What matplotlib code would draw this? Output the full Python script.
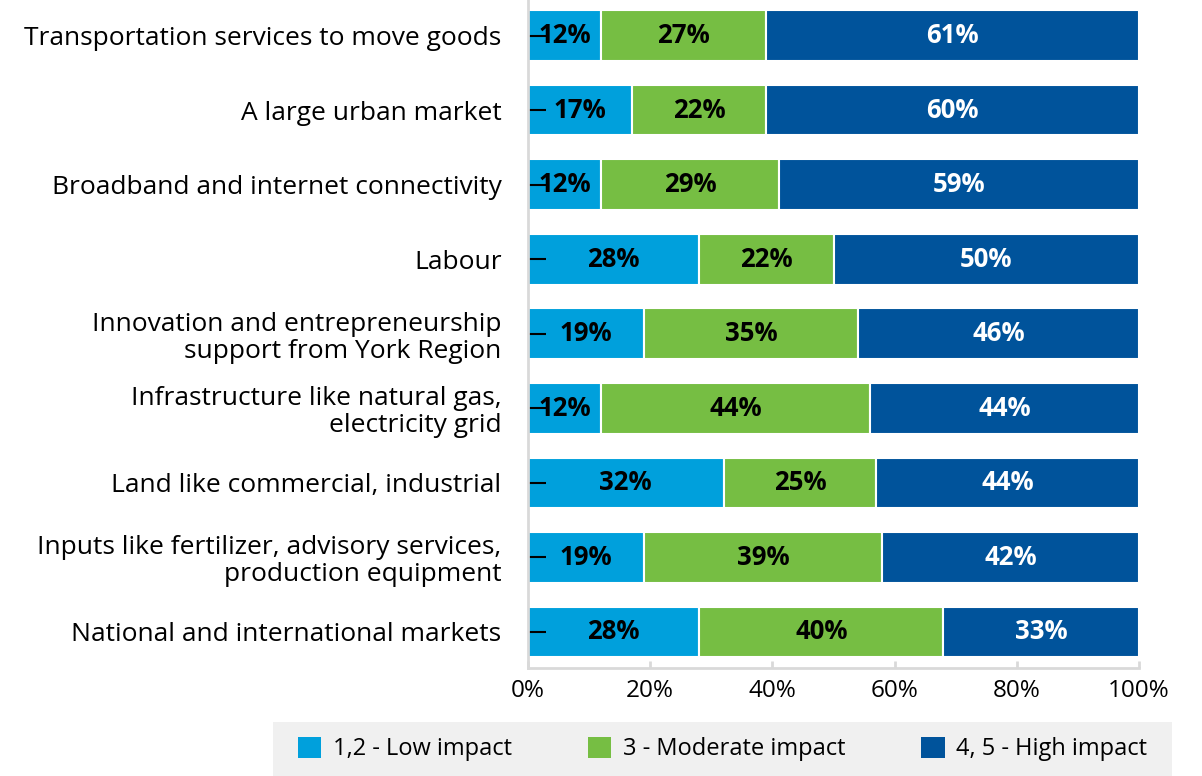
import matplotlib
matplotlib.use("Agg")
import matplotlib.pyplot as plt
from matplotlib.patches import Rectangle

categories = [
    "Transportation services to move goods",
    "A large urban market",
    "Broadband and internet connectivity",
    "Labour",
    "Innovation and entrepreneurship\nsupport from York Region",
    "Infrastructure like natural gas,\nelectricity grid",
    "Land like commercial, industrial",
    "Inputs like fertilizer, advisory services,\nproduction equipment",
    "National and international markets",
]
low = [12, 17, 12, 28, 19, 12, 32, 19, 28]
moderate = [27, 22, 29, 22, 35, 44, 25, 39, 40]
high = [61, 60, 59, 50, 46, 44, 44, 42, 33]
series_names = ["1,2 - Low impact", "3 - Moderate impact", "4, 5 - High impact"]
colors = ["#00A0DC", "#76BE43", "#00539B"]
text_colors = ["black", "black", "white"]
xticks = [0, 20, 40, 60, 80, 100]

plt.rcParams['font.family'] = ['Open Sans', 'DejaVu Sans']

W, H = 1202, 776
fig = plt.figure(figsize=(W / 100, H / 100), dpi=100)
ax = fig.add_axes([528 / W, 1 - 668 / H, (1139 - 528) / W, 668 / H])

y = list(range(len(categories)))
left = [0] * len(categories)
handles = []
all_series = [low, moderate, high]
for k, (vals, c, tc, name) in enumerate(zip(all_series, colors, text_colors, series_names)):
    if k == len(all_series) - 1:
        # last segment fills the remainder of the 100% bar (rounded labels)
        widths = [100 - l for l in left]
    else:
        widths = list(vals)
    bars = ax.barh(y, widths, left=left, height=0.68, color=c, edgecolor="white",
                   linewidth=1.5, label=name)
    handles.append(bars)
    for yi, l, w, v in zip(y, left, widths, vals):
        ax.text(l + w / 2, yi, f"{v}%", ha="center", va="center",
                fontsize=18.5, fontweight="bold", color=tc)
    left = [a + b for a, b in zip(left, widths)]

ax.set_xlim(0, 100)
ax.set_ylim(8.483, -0.477)
ax.set_yticks(y)
ax.set_yticklabels(categories, fontsize=19, linespacing=1.1)
ax.set_xticks(xticks)
ax.set_xticklabels([f"{t}%" for t in xticks], fontsize=17.5)

for s in ["top", "right"]:
    ax.spines[s].set_visible(False)
for s in ["left", "bottom"]:
    ax.spines[s].set_color("#D9D9D9")
    ax.spines[s].set_linewidth(2)

ax.tick_params(axis="y", direction="in", length=13, width=1.5, color="black", pad=19)
ax.tick_params(axis="x", direction="in", length=5, width=2, color="#D9D9D9", pad=8)

# legend background
fig.patches.append(Rectangle((273 / W, 0), (1172 - 273) / W, 54 / H,
                             transform=fig.transFigure, facecolor="#F0F0F0",
                             edgecolor="none", zorder=0))
leg = fig.legend(handles=handles, labels=series_names, loc="center",
                 bbox_to_anchor=((273 + 1172) / 2 / W, 27 / H), ncol=3,
                 frameon=False, fontsize=17, handlelength=1.0, handleheight=1.0,
                 handletextpad=0.5, columnspacing=3.2)
for p in leg.get_patches():
    p.set_edgecolor("none")

fig.savefig("out.png", dpi=100)
